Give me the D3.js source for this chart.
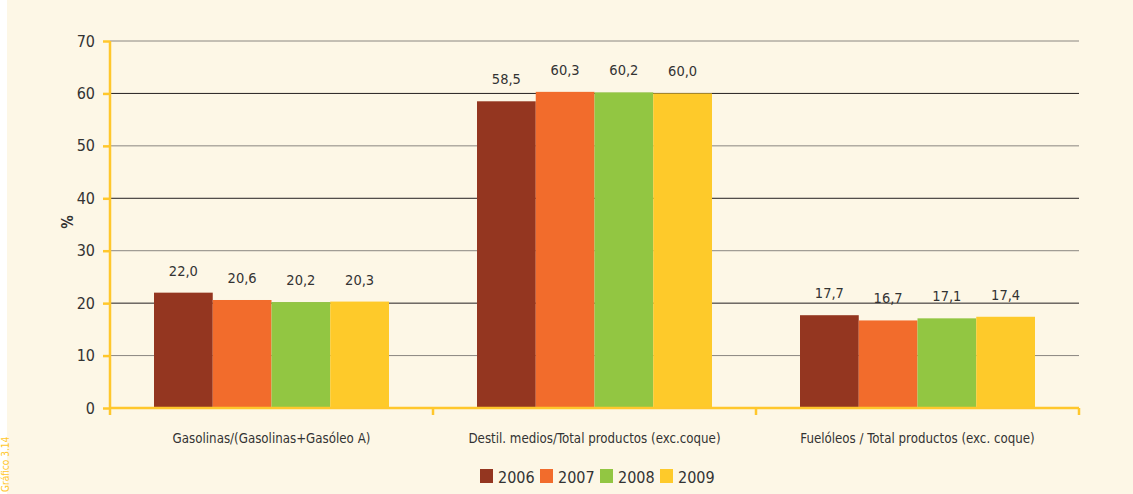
<!DOCTYPE html>
<html><head><meta charset="utf-8">
<script src="https://cdn.jsdelivr.net/npm/d3@7"></script>
<style>
html,body{margin:0;padding:0;background:#fff;}
svg{display:block;}
</style></head>
<body>
<script>
const categories = ["Gasolinas/(Gasolinas+Gasóleo A)", "Destil. medios/Total productos (exc.coque)", "Fuelóleos / Total productos (exc. coque)"];
const years = ["2006", "2007", "2008", "2009"];
const v2006 = [22.0, 58.5, 17.7];
const v2007 = [20.6, 60.3, 16.7];
const v2008 = [20.2, 60.2, 17.1];
const v2009 = [20.3, 60.0, 17.4];
const yTicks = [0, 10, 20, 30, 40, 50, 60, 70];
const colors = ["#943620", "#F26C2C", "#92C642", "#FECA2A"];

(function(){
const series = [v2006, v2007, v2008, v2009];
const W = 1133, H = 494;
const font = "'DejaVu Sans Condensed','Liberation Sans Narrow',sans-serif";
const svg = d3.select("body").append("svg").attr("width", W).attr("height", H);
svg.append("rect").attr("x", 7).attr("y", 0).attr("width", W - 7).attr("height", H).attr("fill", "#FDF7E6");

const pL = 110, pR = 1079, pT = 41, pB = 408;
const x0 = d3.scaleBand().domain(categories).range([pL, pR]).paddingInner(0).paddingOuter(0);
const x1 = d3.scaleBand().domain(years).range([44, x0.bandwidth() - 44]).padding(0);
const y = d3.scaleLinear().domain([0, 70]).range([pB, pT]);

// grid
svg.append("g").selectAll("line").data(yTicks.filter(d => d > 0)).join("line")
  .attr("x1", pL).attr("x2", pR).attr("y1", d => y(d)).attr("y2", d => y(d))
  .attr("stroke", d => (d / 10) % 2 === 0 ? "#231F20" : "#8A8680").attr("stroke-width", 1);

// bars
const g = svg.append("g");
categories.forEach((c, i) => {
  years.forEach((yr, j) => {
    const v = series[j][i];
    g.append("rect").attr("x", x0(c) + x1(yr)).attr("y", y(v))
      .attr("width", x1.bandwidth()).attr("height", y(0) - y(v)).attr("fill", colors[j]);
    g.append("text").attr("x", x0(c) + x1(yr) + x1.bandwidth() / 2).attr("y", y(v) - 17)
      .attr("text-anchor", "middle").attr("font-family", font).attr("font-size", 14.5)
      .attr("fill", "#333").text(v.toFixed(1).replace(".", ","));
  });
});

// y axis
const yAxis = d3.axisLeft(y).tickValues(yTicks).tickSize(7).tickPadding(8).tickFormat(d => d);
const ya = svg.append("g").attr("transform", `translate(${pL},0)`).call(yAxis);
ya.select(".domain").attr("stroke", "#FFC72C").attr("stroke-width", 2.5).attr("d", `M0,${pT}V${pB + 7}`);
ya.selectAll(".tick line").attr("stroke", "#FFC72C").attr("stroke-width", 2.5);
ya.selectAll(".tick text").attr("font-family", font).attr("font-size", 16).attr("fill", "#333");

// x axis
const xa = svg.append("g");
xa.append("line").attr("x1", pL).attr("x2", pR).attr("y1", pB).attr("y2", pB)
  .attr("stroke", "#FFC72C").attr("stroke-width", 2.5);
const bounds = categories.map(c => x0(c) + x0.bandwidth());
xa.selectAll("line.t").data(bounds).join("line").attr("class", "t")
  .attr("x1", d => d).attr("x2", d => d).attr("y1", pB).attr("y2", pB + 7)
  .attr("stroke", "#FFC72C").attr("stroke-width", 2.5);
xa.selectAll("text").data(categories).join("text")
  .attr("x", d => x0(d) + x0.bandwidth() / 2).attr("y", 443)
  .attr("text-anchor", "middle").attr("font-family", font).attr("font-size", 13.2)
  .attr("fill", "#333").text(d => d);

// y label
svg.append("text").attr("transform", "translate(73,222) rotate(-90)").attr("text-anchor", "middle")
  .attr("font-family", font).attr("font-size", 15).attr("font-weight", "bold").attr("fill", "#333").text("%");

// legend
const lg = svg.append("g");
years.forEach((yr, j) => {
  lg.append("rect").attr("x", 480 + j * 60).attr("y", 469).attr("width", 13).attr("height", 14).attr("fill", colors[j]);
  lg.append("text").attr("x", 498 + j * 60).attr("y", 483).attr("font-family", font).attr("font-size", 16)
    .attr("fill", "#333").text(yr);
});

// side caption
svg.append("text").attr("transform", "translate(9,492) rotate(-90)").attr("font-family", font)
  .attr("font-size", 10).attr("fill", "#FFC72C").text("Gráfico 3.14");
})();
</script>
</body></html>
